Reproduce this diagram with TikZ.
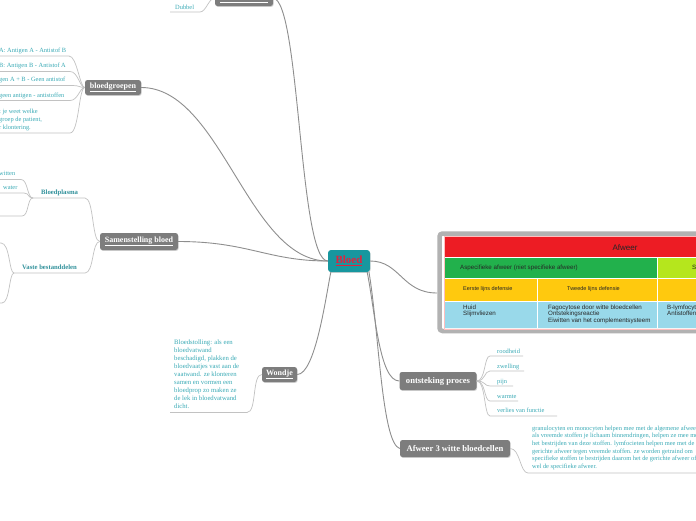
\documentclass[tikz,border=0pt]{standalone}
\usepackage{fontspec}
\setmainfont{Liberation Serif}
\newfontfamily\tabfont{Liberation Sans}
\usetikzlibrary{shadows}
\definecolor{branch}{HTML}{8E8E8E}
\definecolor{leafln}{HTML}{C2C2C2}
\definecolor{leaftext}{HTML}{3AAAB6}
\definecolor{nodegray}{HTML}{7D7D7D}
\definecolor{bloedteal}{HTML}{17979F}
\definecolor{bloedred}{HTML}{E5203C}
\definecolor{afred}{HTML}{ED1C24}
\definecolor{afgreen}{HTML}{22B14C}
\definecolor{aflime}{HTML}{B5E61D}
\definecolor{afyellow}{HTML}{FFC90E}
\definecolor{afblue}{HTML}{99D9EA}
\tikzset{
  topic/.style={fill=nodegray, rounded corners=2.5pt, text=white, inner sep=0pt,
    font=\bfseries\fontsize{8}{9}\selectfont,
    drop shadow={opacity=0.35, shadow xshift=0.6pt, shadow yshift=-0.9pt}},
  bloednode/.style={fill=bloedteal, rounded corners=3pt, text=bloedred, inner sep=0pt,
    font=\bfseries\fontsize{11}{12}\selectfont, minimum width=42pt, minimum height=22pt,
    drop shadow={opacity=0.35, shadow xshift=0.6pt, shadow yshift=-0.9pt}},
  mainline/.style={draw=branch, line width=0.9pt},
  leafline/.style={draw=leafln, line width=0.7pt},
  leaf/.style={text=leaftext, font=\fontsize{6.4}{8}\selectfont, inner sep=0pt, anchor=base west},
  leafblock/.style={text=leaftext, inner sep=0pt, anchor=north west, align=left},
  subleaf/.style={text=leaftext!85!black, font=\bfseries\fontsize{6.7}{8}\selectfont, inner sep=0pt, anchor=base west},
  tabtxt/.style={text=black!85, font=\tabfont\fontsize{5.5}{6.5}\selectfont, inner sep=0pt},
  tabwide/.style={text=black!85, font=\tabfont\fontsize{6.2}{6.6}\selectfont, inner sep=0pt},
}
\begin{document}
\begin{tikzpicture}[x=1pt, y=-1pt]
\useasboundingbox (0,0) rectangle (696,520);
\fill[white] (0,0) rectangle (696,520);

% ---------- table ----------
\draw[gray!60, line width=4.5pt, rounded corners=3pt, fill=white,
  drop shadow={opacity=0.25, shadow xshift=0.8pt, shadow yshift=-1pt}] (439.5,233.5) rectangle (730,331);
\draw[red!25, line width=0.8pt] (444,236) rectangle (730,329);
\fill[afred] (445,237) rectangle (730,257);
\fill[afgreen] (445,257) rectangle (657,278);
\fill[aflime] (657,257) rectangle (730,278);
\fill[afyellow] (445,278) rectangle (730,301);
\fill[afblue] (445,301) rectangle (730,328);
\draw[white, line width=0.6pt] (445,257) -- (730,257) (445,278) -- (730,278) (445,301) -- (730,301)
  (657,257) -- (657,328) (537,278) -- (537,328);
\coordinate (tab) at (437,293);
\node[tabtxt, font=\tabfont\fontsize{8}{9}\selectfont] (tafweer) at (625,247.5) {Afweer};
\node[tabwide, anchor=west] (taspec) at (460,268) {Aspecifieke afweer (niet specifieke afweer)};
\node[tabwide, anchor=west] (tspec) at (692,268) {Specifieke afweer};
\node[tabtxt, anchor=west] (teerste) at (463,289) {Eerste lijns defensie};
\node[tabtxt, anchor=west] (ttweede) at (567,289) {Tweede lijns defensie};
\node[tabwide, anchor=north west, align=left] (thuid) at (463,304.5) {Huid\\Slijmvliezen};
\node[tabwide, anchor=north west, align=left] (tfago) at (548,304.5) {Fagocytose door witte bloedcellen\\Ontstekingsreactie\\Eiwitten van het complementsysteem};
\node[tabwide, anchor=north west, align=left] (tblym) at (667,304.5) {B-lymfocyten\\Antistoffen};

% ---------- nodes ----------
\node[bloednode] (bloed) at (349,261) {\underline{Bloed}};
\node[topic, minimum width=58pt, minimum height=16pt] (top) at (244,-2) {\underline{bloedsomloop}};
\node[topic, minimum width=56pt, minimum height=15pt] (bg) at (113,87.5) {\underline{bloedgroepen}};
\node[topic, minimum width=78pt, minimum height=17pt] (sb) at (139,241.5) {\underline{Samenstelling bloed}};
\node[topic, minimum width=35pt, minimum height=15pt] (wondje) at (279.5,374.5) {\underline{Wondje}};
\node[topic, minimum width=77pt, minimum height=18pt, font=\bfseries\fontsize{8.6}{10}\selectfont] (ont) at (438,381) {ontsteking proces};
\node[topic, minimum width=110pt, minimum height=17pt, font=\bfseries\fontsize{8.6}{10}\selectfont] (af3) at (455,448.5) {Afweer 3 witte bloedcellen};

% ---------- main branches ----------
\draw[mainline] (top.east) .. controls +(27,3) and +(-29,0) .. (bloed.west);
\draw[mainline] (bg.east) .. controls +(80,0) and +(-80,0) .. (bloed.west);
\draw[mainline] (sb.east) .. controls +(70,0) and +(-60,0) .. (bloed.west);
\draw[mainline] (wondje.east) .. controls +(18,0) and +(-5,25) .. ([xshift=3pt]bloed.south west);
\draw[mainline] ([xshift=-3pt]bloed.south east) .. controls +(8,40) and +(-20,0) .. (ont.west);
\draw[mainline] ([xshift=-1.2pt]bloed.south east) .. controls +(10,60) and +(-18,-5) .. (af3.west);
\draw[mainline] (bloed.east) .. controls +(30,0) and +(-35,0) .. (tab);

% ---------- top leaf ----------
\node[leaf] (dubbel) at (175,9) {Dubbel};
\draw[leafline] (170,12) -- (200,12) .. controls +(6,0) and +(-6,0) .. (top.west);

% ---------- bloedgroepen leaves ----------
\node[leaf] (bgA) at (-1,52) {A: Antigen A - Antistof B};
\node[leaf] (bgB) at (-1,67) {B: Antigen B - Antistof A};
\node[leaf] (bgAB) at (-1,81) {gen A + B - Geen antistof};
\node[leaf] (bgO) at (-1,97.5) {geen antigen - antistoffen};
\node[leafblock, font=\fontsize{6.4}{8}\selectfont] (bgT) at (-1,108.5) {t je weet welke\\groep de patient,\\r klontering.};
\draw[leafline] (-2,56) -- (69,56) .. controls +(8,0) and +(-5,0) .. (bg.west);
\draw[leafline] (-2,71.5) -- (70,71.5) .. controls +(8,0) and +(-5,0) .. (bg.west);
\draw[leafline] (-2,85.5) -- (73,85.5) .. controls +(6,0) and +(-5,0) .. (bg.west);
\draw[leafline] (-2,100.5) -- (70,100.5) .. controls +(8,0) and +(-5,0) .. (bg.west);
\draw[leafline] (-2,133) -- (70,133) .. controls +(9,0) and +(-6,0) .. (bg.west);

% ---------- samenstelling leaves ----------
\node[subleaf] (plasma) at (41,194.5) {Bloedplasma};
\node[subleaf] (vaste) at (22,269.5) {Vaste bestanddelen};
\coordinate (bpj) at (33,198);
\coordinate (vbj) at (14,273);
\draw[leafline] (bpj) -- (85,198) .. controls +(9,0) and +(-8,0) .. (sb.west);
\draw[leafline] (vbj) -- (85,273) .. controls +(9,0) and +(-8,0) .. (sb.west);
\node[leaf] (witten) at (-1,175.5) {witten};
\node[leaf] (water) at (3,189.5) {water};
\draw[leafline] (-2,179.5) -- (21,179.5) .. controls +(7,0) and +(-6,0) .. (bpj);
\draw[leafline] (-2,193) -- (24,193) .. controls +(5,0) and +(-5,0) .. (bpj);
\draw[leafline] (-2,216) -- (22,216) .. controls +(7,0) and +(-6,0) .. (bpj);
\draw[leafline] (-2,243) -- (1,243) .. controls +(9,0) and +(-5,0) .. (vbj);
\draw[leafline] (vbj) .. controls +(-5,0) and +(8,0) .. (2,303) -- (-2,303);

% ---------- wondje leaf ----------
\node[leafblock, font=\fontsize{6.7}{8}\selectfont] (stolling) at (174,339.5) {Bloedstolling: als een\\bloedvatwand\\beschadigd, plakken de\\bloedvaatjes vast aan de\\vaatwand. ze klonteren\\samen en vormen een\\bloedprop zo maken ze\\de lek in bloedvatwand\\dicht.};
\draw[leafline] (170,412.5) -- (247,412.5) .. controls +(10,0) and +(-10,0) .. (wondje.west);

% ---------- ontsteking leaves ----------
\node[leaf] (rood) at (497,353.5) {roodheid};
\node[leaf] (zwel) at (497,368.5) {zwelling};
\node[leaf] (pijn) at (497,383.5) {pijn};
\node[leaf] (warm) at (497,398) {warmte};
\node[leaf] (verlies) at (497,412.5) {verlies van functie};
\draw[leafline] (ont.east) .. controls +(9,0) and +(-6,0) .. (490,356) -- (523,356);
\draw[leafline] (ont.east) .. controls +(9,0) and +(-6,0) .. (490,371) -- (524,371);
\draw[leafline] (ont.east) .. controls +(9,0) and +(-6,0) .. (490,386) -- (513,386);
\draw[leafline] (ont.east) .. controls +(9,0) and +(-6,0) .. (490,401) -- (518,401);
\draw[leafline] (ont.east) .. controls +(9,0) and +(-6,0) .. (490,416) -- (557,416);

% ---------- afweer 3 leaf ----------
\node[leafblock, font=\fontsize{6.4}{7.6}\selectfont] (granulo) at (532,425.5) {granulocyten en monocyten helpen mee met de algemene afweer.\\als vreemde stoffen je lichaam binnendringen, helpen ze mee met\\het bestrijden van deze stoffen. lymfocieten helpen mee met de\\gerichte afweer tegen vreemde stoffen. ze worden getraind om\\specifieke stoffen te bestrijden daarom het de gerichte afweer of\\wel de specifieke afweer.};
\draw[leafline] (af3.east) .. controls +(10,0) and +(-8,0) .. (528,473) -- (700,473);
\end{tikzpicture}
\end{document}
